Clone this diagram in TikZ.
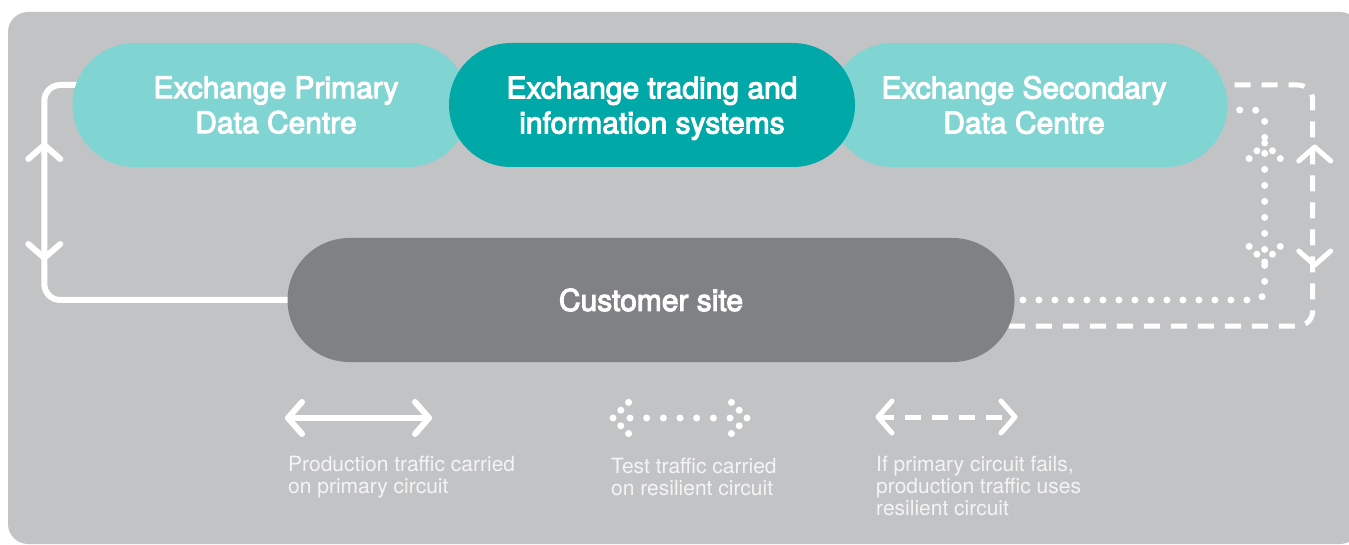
\documentclass[tikz,border=0pt]{standalone}
\usepackage{fontspec}
\setmainfont{TeX Gyre Heros}
\newfontfamily\titlefont[FakeBold=3.5]{TeX Gyre Heros}
\usetikzlibrary{calc}

\definecolor{panelgray}{HTML}{C2C3C5}
\definecolor{tealpale}{HTML}{80D4D2}
\definecolor{tealdeep}{HTML}{00A9A7}
\definecolor{custgray}{HTML}{808184}
\definecolor{legendwhite}{HTML}{F4F4F5}

\pgfdeclarelayer{panel}
\pgfdeclarelayer{wires}
\pgfsetlayers{panel,wires,main}

\tikzset{
	pill/.style={rectangle, rounded corners=62pt, minimum height=124pt, minimum width=397pt, inner sep=0pt, align=center, text=white, font=\titlefont\fontsize{30}{35}\selectfont},
	primaryline/.style={draw=white, line width=6pt, line cap=round, line join=round},
	testline/.style={draw=white, line width=7pt, line cap=round, dash pattern=on 0pt off 16pt},
	backupline/.style={draw=white, line width=5pt, dash pattern=on 16pt off 11pt},
	chevline/.style={line width=5pt, line cap=round, line join=round},
	chev/.pic={\draw[white, pic actions] (-16,14) -- (0,0) -- (16,14);},
	dotchev/.pic={\draw[white, pic actions] (0,0) -- (-16,16) (0,0) -- (16,16);},
	legend/.style={anchor=north west, inner sep=0pt, align=left, text=legendwhite, font=\fontsize{21}{22}\selectfont}
}

\begin{document}
\begin{tikzpicture}[x=1pt, y=-1pt]
	\useasboundingbox (0,0) rectangle (1349,545);

	\begin{pgfonlayer}{panel}
		\fill[panelgray, rounded corners=20pt] (8,12) rectangle (1360,544);
	\end{pgfonlayer}

	% data centres and customer
	\node[pill, fill=tealpale] (primary) at (271,105) {\hspace*{10pt}Exchange Primary\\\hspace*{10pt}Data Centre};
	\node[pill, fill=tealpale] (secondary) at (1029,105) {Exchange Secondary\hspace*{10pt}\\Data Centre\hspace*{10pt}};
	\node[pill, fill=tealdeep, minimum width=406pt, text depth=0pt] (trading) at (652,105) {Exchange trading and\\information systems};
	\node[pill, fill=custgray, minimum width=727pt] (customer) at (651,300) {Customer site};

	% circuits
	\begin{pgfonlayer}{wires}
		\draw[primaryline, rounded corners=16pt] ($(primary.west)+(20,-20)$) -- ($(primary.west)+(-28,-20)$) |- (customer.west);
		\draw[testline, rounded corners=10pt] ($(secondary.east)+(-20,5)$) -- ($(secondary.east)+(37,5)$) |- (customer.east);
		\draw[backupline, rounded corners=15pt] ($(secondary.east)+(-20,-20)$) -- ($(secondary.east)+(85,-20)$) |- ($(customer.east)+(-20,26)$);
	\end{pgfonlayer}

	\coordinate (pup) at ($(primary.west)+(-28,40)$);
	\coordinate (pdown) at ($(primary.west)+(-28,153)$);
	\coordinate (tup) at ($(secondary.east)+(37,38)$);
	\coordinate (tdown) at ($(secondary.east)+(37,157)$);
	\coordinate (bup) at ($(secondary.east)+(87,42)$);
	\coordinate (bdown) at ($(secondary.east)+(87,160)$);

	\pic[primaryline] at (pup) {chev};
	\pic[primaryline, rotate=180] at (pdown) {chev};
	\pic[testline, dash pattern=on 0pt off 11pt] at (tup) {dotchev};
	\pic[testline, dash pattern=on 0pt off 11pt, rotate=180] at (tdown) {dotchev};
	\pic[chevline] at (bup) {chev};
	\pic[chevline, rotate=180] at (bdown) {chev};

	% key
	\coordinate (sl) at (288,418);
	\coordinate (sr) at (429,418);
	\coordinate (tl) at (613,418);
	\coordinate (tr) at (747,418);
	\coordinate (bl) at (878,417);
	\coordinate (br) at (1015,417);

	\draw[primaryline] (sl) -- (sr);
	\pic[primaryline, rotate=90] at (sl) {chev};
	\pic[primaryline, rotate=-90] at (sr) {chev};

	\draw[testline, dash pattern=on 0pt off 16.67pt] ($(tl)+(17,0)$) -- ($(tr)+(-16,0)$);
	\pic[testline, dash pattern=on 0pt off 11pt, rotate=90] at (tl) {dotchev};
	\pic[testline, dash pattern=on 0pt off 11pt, rotate=-90] at (tr) {dotchev};

	\draw[backupline] (bl) -- (br);
	\pic[chevline, rotate=90] at (bl) {chev};
	\pic[chevline, rotate=-90] at (br) {chev};

	\node[legend] (keyprimary) at (288,456) {Production traffic carried\\on primary circuit};
	\node[legend] (keytest) at (611,458) {Test traffic carried\\on resilient circuit};
	\node[legend] (keybackup) at (876,456) {If primary circuit fails,\\production traffic uses\\resilient circuit};
\end{tikzpicture}
\end{document}
